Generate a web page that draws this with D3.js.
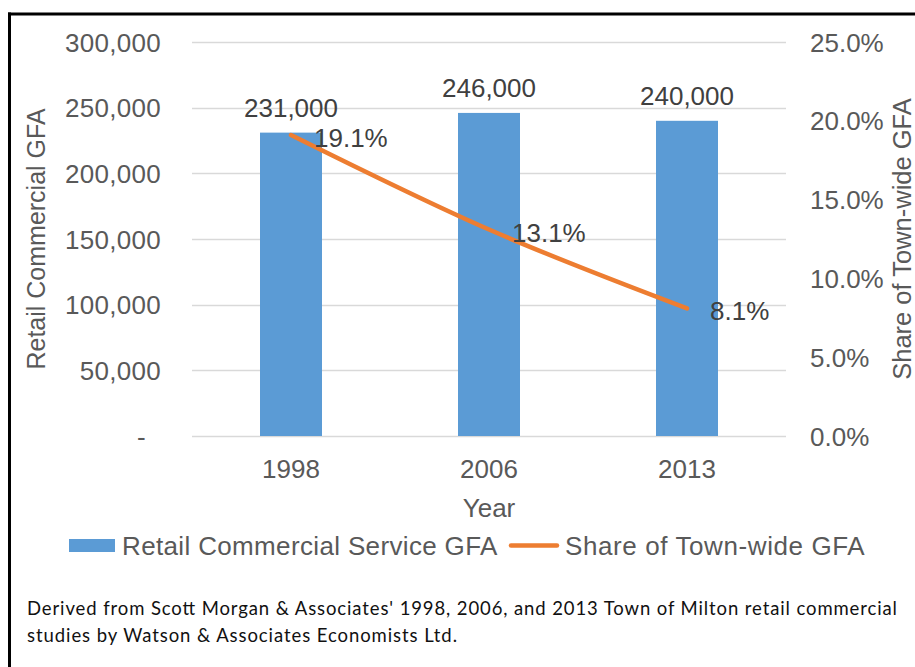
<!DOCTYPE html>
<html>
<head>
<meta charset="utf-8">
<script src="https://cdn.jsdelivr.net/npm/d3@7"></script>
<style>
  html, body { margin: 0; padding: 0; background: #fff; }
  svg { display: block; }
</style>
</head>
<body>
<svg id="chart" width="915" height="667"></svg>
<script>
// Retail commercial service floor area and its share of the town-wide total
const years = ["1998", "2006", "2013"];
const retailGFA = [231000, 246000, 240000];
const townShare = [19.1, 13.1, 8.1];
const leftTicks = [0, 50000, 100000, 150000, 200000, 250000, 300000];
const rightTicks = [0, 5, 10, 15, 20, 25];
const seriesNames = ["Retail Commercial Service GFA", "Share of Town-wide GFA"];
const footnoteLines = [
  "Derived from Scott Morgan & Associates' 1998, 2006, and 2013 Town of Milton retail commercial",
  "studies by Watson & Associates Economists Ltd."
];

const W = 915, H = 667;
const plot = { left: 192, right: 786, top: 42, bottom: 436 };
const FONT = "'Liberation Sans', Arial, sans-serif";
const BAR = "#5B9BD5", LINE = "#ED7D31";
const TICK_COLOR = "#595959", LABEL_COLOR = "#404040";

const svg = d3.select("#chart");
svg.append("rect").attr("width", W).attr("height", H).attr("fill", "#fff");

// frame edges
svg.append("line").attr("x1", 8).attr("x2", W).attr("y1", 14).attr("y2", 14)
  .attr("stroke", "#000").attr("stroke-width", 3);
svg.append("line").attr("x1", 9.5).attr("x2", 9.5).attr("y1", 12.5).attr("y2", H)
  .attr("stroke", "#000").attr("stroke-width", 3);

const x = d3.scaleBand().domain(years).range([plot.left, plot.right]).paddingInner(0).paddingOuter(0);
const yL = d3.scaleLinear().domain([0, 300000]).range([plot.bottom, plot.top]);
const yR = d3.scaleLinear().domain([0, 25]).range([plot.bottom, plot.top]);
const barW = 62;
const cx = d => x(d) + x.bandwidth() / 2;

// gridlines
svg.append("g").selectAll("line").data(leftTicks).join("line")
  .attr("x1", plot.left).attr("x2", plot.right)
  .attr("y1", d => Math.round(yL(d)) + 0.5).attr("y2", d => Math.round(yL(d)) + 0.5)
  .attr("stroke", "#D9D9D9").attr("stroke-width", 1.5);

// left axis
const fmtLeft = d => d === 0 ? "-" : d3.format(",")(d);
const axL = svg.append("g").attr("transform", `translate(${plot.left},0)`)
  .call(d3.axisLeft(yL).tickValues(leftTicks).tickFormat(fmtLeft).tickSize(0).tickPadding(31));
axL.select(".domain").remove();
axL.selectAll("text").attr("font-family", FONT).attr("font-size", 26)
  .attr("fill", TICK_COLOR).attr("dy", "0.35em").attr("letter-spacing", 0.3);
axL.selectAll(".tick").filter(d => d === 0).select("text").attr("x", -46);

// right axis
const axR = svg.append("g").attr("transform", `translate(${plot.right},0)`)
  .call(d3.axisRight(yR).tickValues(rightTicks).tickFormat(d => d3.format(".1f")(d) + "%").tickSize(0).tickPadding(24));
axR.select(".domain").remove();
axR.selectAll("text").attr("font-family", FONT).attr("font-size", 26)
  .attr("fill", TICK_COLOR).attr("dy", "0.35em");

// category axis
const axX = svg.append("g").attr("transform", `translate(0,${plot.bottom})`)
  .call(d3.axisBottom(x).tickSize(0).tickPadding(0));
axX.select(".domain").remove();
axX.selectAll("text").attr("font-family", FONT).attr("font-size", 26)
  .attr("fill", TICK_COLOR).attr("dy", null).attr("y", 42);

// axis titles
svg.append("text").attr("transform", `translate(45,${(plot.top + plot.bottom) / 2}) rotate(-90)`)
  .attr("text-anchor", "middle").attr("font-family", FONT).attr("font-size", 25)
  .attr("fill", TICK_COLOR).text("Retail Commercial GFA");
svg.append("text").attr("transform", `translate(911,${(plot.top + plot.bottom) / 2}) rotate(-90)`)
  .attr("text-anchor", "middle").attr("font-family", FONT).attr("font-size", 25.5)
  .attr("fill", TICK_COLOR).text(seriesNames[1]);
svg.append("text").attr("x", cx(years[1])).attr("y", 517)
  .attr("text-anchor", "middle").attr("font-family", FONT).attr("font-size", 26)
  .attr("fill", TICK_COLOR).text("Year");

// bars
const bars = years.map((y, i) => ({ year: y, v: retailGFA[i] }));
svg.append("g").selectAll("rect").data(bars).join("rect")
  .attr("x", d => cx(d.year) - barW / 2).attr("width", barW)
  .attr("y", d => yL(d.v)).attr("height", d => yL(0) - yL(d.v))
  .attr("fill", BAR);
svg.append("g").selectAll("text").data(bars).join("text")
  .attr("x", d => cx(d.year)).attr("y", d => yL(d.v) - 16)
  .attr("text-anchor", "middle").attr("font-family", FONT).attr("font-size", 26)
  .attr("fill", LABEL_COLOR).text(d => d3.format(",")(d.v));

// share line
const pts = years.map((y, i) => ({ year: y, v: townShare[i] }));
const line = d3.line().x(d => cx(d.year)).y(d => yR(d.v)).curve(d3.curveCardinal);
svg.append("path").datum(pts).attr("d", line)
  .attr("fill", "none").attr("stroke", LINE).attr("stroke-width", 4.5)
  .attr("stroke-linecap", "round").attr("stroke-linejoin", "round");
svg.append("g").selectAll("text").data(pts).join("text")
  .attr("x", d => cx(d.year) + 23).attr("y", d => yR(d.v) + 3)
  .attr("dy", "0.35em").attr("font-family", FONT).attr("font-size", 26)
  .attr("fill", LABEL_COLOR).text(d => d.v.toFixed(1) + "%");

// legend
const lg = svg.append("g");
lg.append("rect").attr("x", 69).attr("y", 539).attr("width", 46).attr("height", 13).attr("fill", BAR);
lg.append("text").attr("x", 122).attr("y", 555).attr("font-family", FONT).attr("font-size", 26)
  .attr("letter-spacing", 0.35).attr("fill", TICK_COLOR).text(seriesNames[0]);
lg.append("line").attr("x1", 511).attr("x2", 557).attr("y1", 545.5).attr("y2", 545.5)
  .attr("stroke", LINE).attr("stroke-width", 4.5).attr("stroke-linecap", "round");
lg.append("text").attr("x", 565).attr("y", 555).attr("font-family", FONT).attr("font-size", 26)
  .attr("letter-spacing", 0.6).attr("fill", TICK_COLOR).text(seriesNames[1]);

// source note
const noteWidths = [870, 430];
svg.append("g").selectAll("text").data(footnoteLines).join("text")
  .attr("x", 27).attr("y", (d, i) => 615 + i * 27)
  .attr("font-family", "Lato, 'Open Sans', sans-serif").attr("font-size", 18.5)
  .attr("fill", "#111")
  .attr("textLength", (d, i) => noteWidths[i]).attr("lengthAdjust", "spacing")
  .text(d => d);
</script>
</body>
</html>
